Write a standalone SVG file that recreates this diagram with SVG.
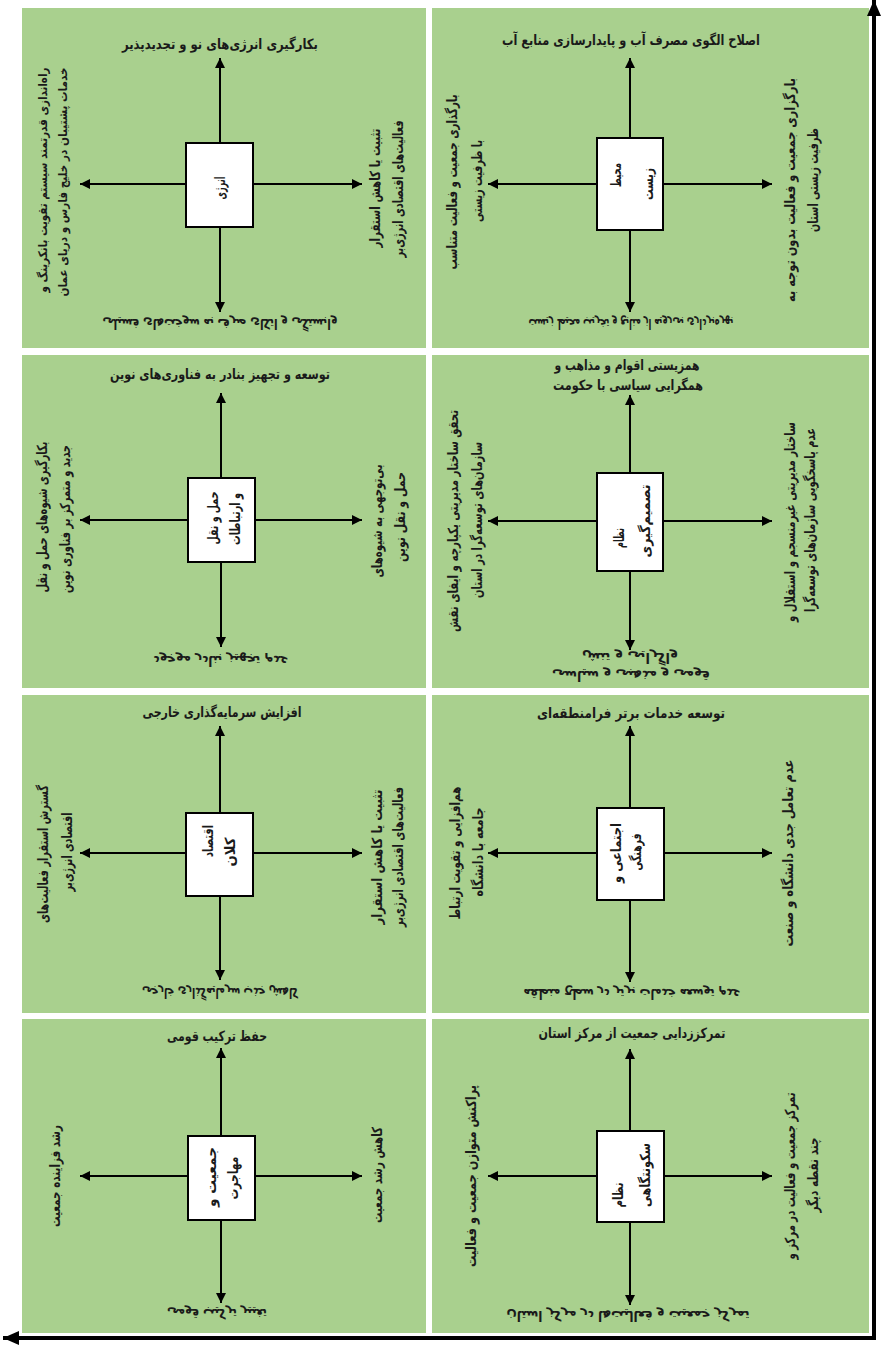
<svg xmlns="http://www.w3.org/2000/svg" width="882" height="1345" viewBox="0 0 882 1345">
<style>
.panel{fill:#a9d08e}
.box{fill:#fff;stroke:#000;stroke-width:2}
.arr{stroke:#000;stroke-width:2;fill:none;marker-end:url(#ah)}
.axis{stroke:#000;stroke-width:4;fill:none;marker-end:url(#axh)}
text{font-family:'DejaVu Sans',sans-serif;font-size:14px;font-weight:bold;fill:#1a1a1a;text-anchor:middle}
text.sm{font-size:12px}
</style>
<defs>
<marker id="ah" viewBox="0 0 10 10" refX="10" refY="5" markerWidth="10" markerHeight="10" markerUnits="userSpaceOnUse" orient="auto"><path d="M0,0 L10,5 L0,10 z" fill="#000"/></marker>
<marker id="axh" viewBox="0 0 16 14" refX="16" refY="7" markerWidth="16" markerHeight="14" markerUnits="userSpaceOnUse" orient="auto"><path d="M0,0 L16,7 L0,14 z" fill="#000"/></marker>
</defs>
<rect width="882" height="1345" fill="#fff"/>

<g id="panels">
<rect class="panel" x="22" y="8" width="404" height="340"/>
<rect class="panel" x="432" y="8" width="437" height="340"/>
<rect class="panel" x="22" y="355" width="404" height="333"/>
<rect class="panel" x="432" y="355" width="437" height="333"/>
<rect class="panel" x="22" y="695" width="404" height="318"/>
<rect class="panel" x="432" y="695" width="437" height="318"/>
<rect class="panel" x="22" y="1019" width="404" height="314"/>
<rect class="panel" x="432" y="1019" width="437" height="314"/>
</g>

<g id="connectors">
<path class="arr" d="M220,143 L220,58"/><path class="arr" d="M220,227 L220,312"/><path class="arr" d="M186,184 L80,184"/><path class="arr" d="M253,184 L362,184"/>
<path class="arr" d="M630,138 L630,58"/><path class="arr" d="M630,230 L630,312"/><path class="arr" d="M597,184 L488,184"/><path class="arr" d="M663,184 L772,184"/>
<path class="arr" d="M221,478 L221,393"/><path class="arr" d="M221,562 L221,647"/><path class="arr" d="M188,520 L80,520"/><path class="arr" d="M255,520 L362,520"/>
<path class="arr" d="M630,473 L630,395"/><path class="arr" d="M630,571 L630,650"/><path class="arr" d="M597,521 L488,521"/><path class="arr" d="M663,521 L772,521"/>
<path class="arr" d="M220,813 L220,726"/><path class="arr" d="M220,896 L220,980"/><path class="arr" d="M186,853 L80,853"/><path class="arr" d="M253,853 L362,853"/>
<path class="arr" d="M630,808 L630,726"/><path class="arr" d="M630,900 L630,982"/><path class="arr" d="M597,853 L488,853"/><path class="arr" d="M664,853 L772,853"/>
<path class="arr" d="M221,1136 L221,1048"/><path class="arr" d="M221,1220 L221,1303"/><path class="arr" d="M188,1176 L80,1176"/><path class="arr" d="M255,1176 L362,1176"/>
<path class="arr" d="M630,1131 L630,1049"/><path class="arr" d="M630,1222 L630,1305"/><path class="arr" d="M597,1176 L488,1176"/><path class="arr" d="M664,1176 L772,1176"/>
<path class="axis" d="M874,1340 L874,0"/>
<path class="axis" d="M876,1338 L3,1338"/>
</g>

<g id="energy">
<rect class="box" x="186" y="143" width="67" height="84"/>
<text transform="translate(225,188) rotate(-90)" textLength="23" lengthAdjust="spacingAndGlyphs">انرژی</text>
<text x="220" y="49" textLength="196" lengthAdjust="spacingAndGlyphs">بکارگیری انرژی&#x200C;های نو و تجدیدپذیر</text>
<text class="sm" transform="translate(47,180) rotate(-90)" textLength="225" lengthAdjust="spacingAndGlyphs">راه&#x200C;اندازی قدرتمند سیستم تقویت بانکرینگ و</text>
<text class="sm" transform="translate(67,182) rotate(-90)" textLength="229" lengthAdjust="spacingAndGlyphs">خدمات پشتیبان در خلیج فارس و دریای عمان</text>
<text transform="translate(380,188) rotate(-90)" textLength="119" lengthAdjust="spacingAndGlyphs">تثبیت یا کاهش استقرار</text>
<text transform="translate(403,189) rotate(-90)" textLength="137" lengthAdjust="spacingAndGlyphs">فعالیت&#x200C;های اقتصادی انرژی&#x200C;بر</text>
<text transform="translate(220,319) scale(1,-1)" textLength="235" lengthAdjust="spacingAndGlyphs">وابستگی و اتکای صرف به سوخت&#x200C;های فسیلی</text>
</g>

<g id="environment">
<rect class="box" x="597" y="138" width="66" height="92"/>
<text transform="translate(621,175) rotate(-90)" textLength="24" lengthAdjust="spacingAndGlyphs">محیط</text>
<text transform="translate(653,184) rotate(-90)" textLength="32" lengthAdjust="spacingAndGlyphs">زیست</text>
<text x="631" y="45" textLength="258" lengthAdjust="spacingAndGlyphs">اصلاح الگوی مصرف آب و پایدارسازی منابع آب</text>
<text transform="translate(457,182) rotate(-90)" textLength="175" lengthAdjust="spacingAndGlyphs">بارگذاری جمعیت و فعالیت متناسب</text>
<text transform="translate(482,181) rotate(-90)" textLength="82" lengthAdjust="spacingAndGlyphs">با ظرفیت زیستی</text>
<text transform="translate(795,190) rotate(-90)" textLength="224" lengthAdjust="spacingAndGlyphs">بارگزاری جمعیت و فعالیت بدون توجه به</text>
<text transform="translate(818,180) rotate(-90)" textLength="104" lengthAdjust="spacingAndGlyphs">ظرفیت زیستی استان</text>
<text transform="translate(631,319) scale(1,-1)" textLength="205" lengthAdjust="spacingAndGlyphs">بهره&#x200C;برداری بی&#x200C;رویه از منابع و تخریب محیط زیست</text>
</g>

<g id="transport">
<rect class="box" x="188" y="478" width="67" height="84"/>
<text transform="translate(218,518) rotate(-90)" textLength="53" lengthAdjust="spacingAndGlyphs">حمل و نقل</text>
<text transform="translate(240,519) rotate(-90)" textLength="52" lengthAdjust="spacingAndGlyphs">و ارتباطات</text>
<text x="220" y="379" textLength="220" lengthAdjust="spacingAndGlyphs">توسعه و تجهیز بنادر به فناوری&#x200C;های نوین</text>
<text transform="translate(47,517) rotate(-90)" textLength="151" lengthAdjust="spacingAndGlyphs">بکارگیری شیوه&#x200C;های حمل و نقل</text>
<text transform="translate(70,519) rotate(-90)" textLength="148" lengthAdjust="spacingAndGlyphs">جدید و متمرکز بر فناوری نوین</text>
<text transform="translate(382,521) rotate(-90)" textLength="113" lengthAdjust="spacingAndGlyphs">بی&#x200C;توجهی به شیوه&#x200C;های</text>
<text transform="translate(405,517) rotate(-90)" textLength="90" lengthAdjust="spacingAndGlyphs">حمل و نقل نوین</text>
<text transform="translate(221,656) scale(1,-1)" textLength="135" lengthAdjust="spacingAndGlyphs">عدم تجهیز بنادر موجود</text>
</g>

<g id="decision">
<rect class="box" x="597" y="473" width="66" height="98"/>
<text transform="translate(624,538) rotate(-90)" textLength="20" lengthAdjust="spacingAndGlyphs">نظام</text>
<text transform="translate(650,521) rotate(-90)" textLength="73" lengthAdjust="spacingAndGlyphs">تصمیم&#x200C;گیری</text>
<text x="627" y="370" textLength="145" lengthAdjust="spacingAndGlyphs">همزیستی اقوام و مذاهب و</text>
<text x="628" y="390" textLength="150" lengthAdjust="spacingAndGlyphs">همگرایی سیاسی با حکومت</text>
<text transform="translate(458,521) rotate(-90)" textLength="222" lengthAdjust="spacingAndGlyphs">تحقق ساختار مدیریتی یکپارچه و ایفای نقش</text>
<text transform="translate(482,520) rotate(-90)" textLength="156" lengthAdjust="spacingAndGlyphs">سازمان&#x200C;های توسعه&#x200C;گرا در استان</text>
<text transform="translate(795,522) rotate(-90)" textLength="200" lengthAdjust="spacingAndGlyphs">ساختار مدیریتی غیرمنسجم و استقلال و</text>
<text transform="translate(815,520) rotate(-90)" textLength="184" lengthAdjust="spacingAndGlyphs">عدم پاسخگویی سازمان&#x200C;های توسعه&#x200C;گرا</text>
<text transform="translate(630,653) scale(1,-1)" textLength="96" lengthAdjust="spacingAndGlyphs">واگرایی و تنش</text>
<text transform="translate(631,671) scale(1,-1)" textLength="158" lengthAdjust="spacingAndGlyphs">قومی و مذهبی و سیاسی</text>
</g>

<g id="macroeconomy">
<rect class="box" x="186" y="813" width="67" height="83"/>
<text transform="translate(213,841) rotate(-90)" textLength="32" lengthAdjust="spacingAndGlyphs">اقتصاد</text>
<text transform="translate(235,852) rotate(-90)" textLength="29" lengthAdjust="spacingAndGlyphs">کلان</text>
<text x="222" y="717" textLength="159" lengthAdjust="spacingAndGlyphs">افزایش سرمایه&#x200C;گذاری خارجی</text>
<text transform="translate(48,854) rotate(-90)" textLength="138" lengthAdjust="spacingAndGlyphs">گسترش استقرار فعالیت&#x200C;های</text>
<text transform="translate(72,852) rotate(-90)" textLength="79" lengthAdjust="spacingAndGlyphs">اقتصادی انرژی&#x200C;بر</text>
<text transform="translate(382,857) rotate(-90)" textLength="135" lengthAdjust="spacingAndGlyphs">تثبیت یا کاهش استقرار</text>
<text transform="translate(403,857) rotate(-90)" textLength="140" lengthAdjust="spacingAndGlyphs">فعالیت&#x200C;های اقتصادی انرژی&#x200C;بر</text>
<text transform="translate(220,988) scale(1,-1)" textLength="156" lengthAdjust="spacingAndGlyphs">کاهش جذب سرمایه&#x200C;گذاری خارجی</text>
</g>

<g id="social">
<rect class="box" x="597" y="808" width="67" height="92"/>
<text transform="translate(621,853) rotate(-90)" textLength="60" lengthAdjust="spacingAndGlyphs">اجتماعی و</text>
<text transform="translate(641,852) rotate(-90)" textLength="37" lengthAdjust="spacingAndGlyphs">فرهنگی</text>
<text x="631" y="718" textLength="188" lengthAdjust="spacingAndGlyphs">توسعه خدمات برتر فرامنطقه&#x200C;ای</text>
<text transform="translate(460,853) rotate(-90)" textLength="133" lengthAdjust="spacingAndGlyphs">هم&#x200C;افزایی و تقویت ارتباط</text>
<text transform="translate(483,852) rotate(-90)" textLength="89" lengthAdjust="spacingAndGlyphs">جامعه با دانشگاه</text>
<text transform="translate(793,853) rotate(-90)" textLength="187" lengthAdjust="spacingAndGlyphs">عدم تعامل جدی دانشگاه و صنعت</text>
<text transform="translate(632,989) scale(1,-1)" textLength="217" lengthAdjust="spacingAndGlyphs">عدم توسعه خدمات برتر در سطح منطقه</text>
</g>

<g id="population">
<rect class="box" x="188" y="1136" width="67" height="84"/>
<text transform="translate(216,1177) rotate(-90)" textLength="60" lengthAdjust="spacingAndGlyphs">جمعیت و</text>
<text transform="translate(238,1178) rotate(-90)" textLength="43" lengthAdjust="spacingAndGlyphs">مهاجرت</text>
<text x="217" y="1041" textLength="100" lengthAdjust="spacingAndGlyphs">حفظ ترکیب قومی</text>
<text transform="translate(60,1176) rotate(-90)" textLength="102" lengthAdjust="spacingAndGlyphs">رشد فزاینده جمعیت</text>
<text transform="translate(382,1175) rotate(-90)" textLength="96" lengthAdjust="spacingAndGlyphs">کاهش رشد جمعیت</text>
<text transform="translate(217,1309) scale(1,-1)" textLength="100" lengthAdjust="spacingAndGlyphs">تغییر ترکیب قومی</text>
</g>

<g id="settlement">
<rect class="box" x="597" y="1131" width="67" height="91"/>
<text transform="translate(623,1195) rotate(-90)" textLength="25" lengthAdjust="spacingAndGlyphs">نظام</text>
<text transform="translate(650,1175) rotate(-90)" textLength="64" lengthAdjust="spacingAndGlyphs">سکونتگاهی</text>
<text x="632" y="1038" textLength="187" lengthAdjust="spacingAndGlyphs">تمرکززدایی جمعیت از مرکز استان</text>
<text transform="translate(476,1176) rotate(-90)" textLength="182" lengthAdjust="spacingAndGlyphs">پراکنش متوازن جمعیت و فعالیت</text>
<text transform="translate(795,1176) rotate(-90)" textLength="167" lengthAdjust="spacingAndGlyphs">تمرکز جمعیت و فعالیت در مرکز و</text>
<text transform="translate(818,1175) rotate(-90)" textLength="75" lengthAdjust="spacingAndGlyphs">چند نقطه دیگر</text>
<text transform="translate(628,1311) scale(1,-1)" textLength="243" lengthAdjust="spacingAndGlyphs">تمرکز جمعیت و فعالیت&#x200C;ها در مرکز استان</text>
</g>
</svg>
